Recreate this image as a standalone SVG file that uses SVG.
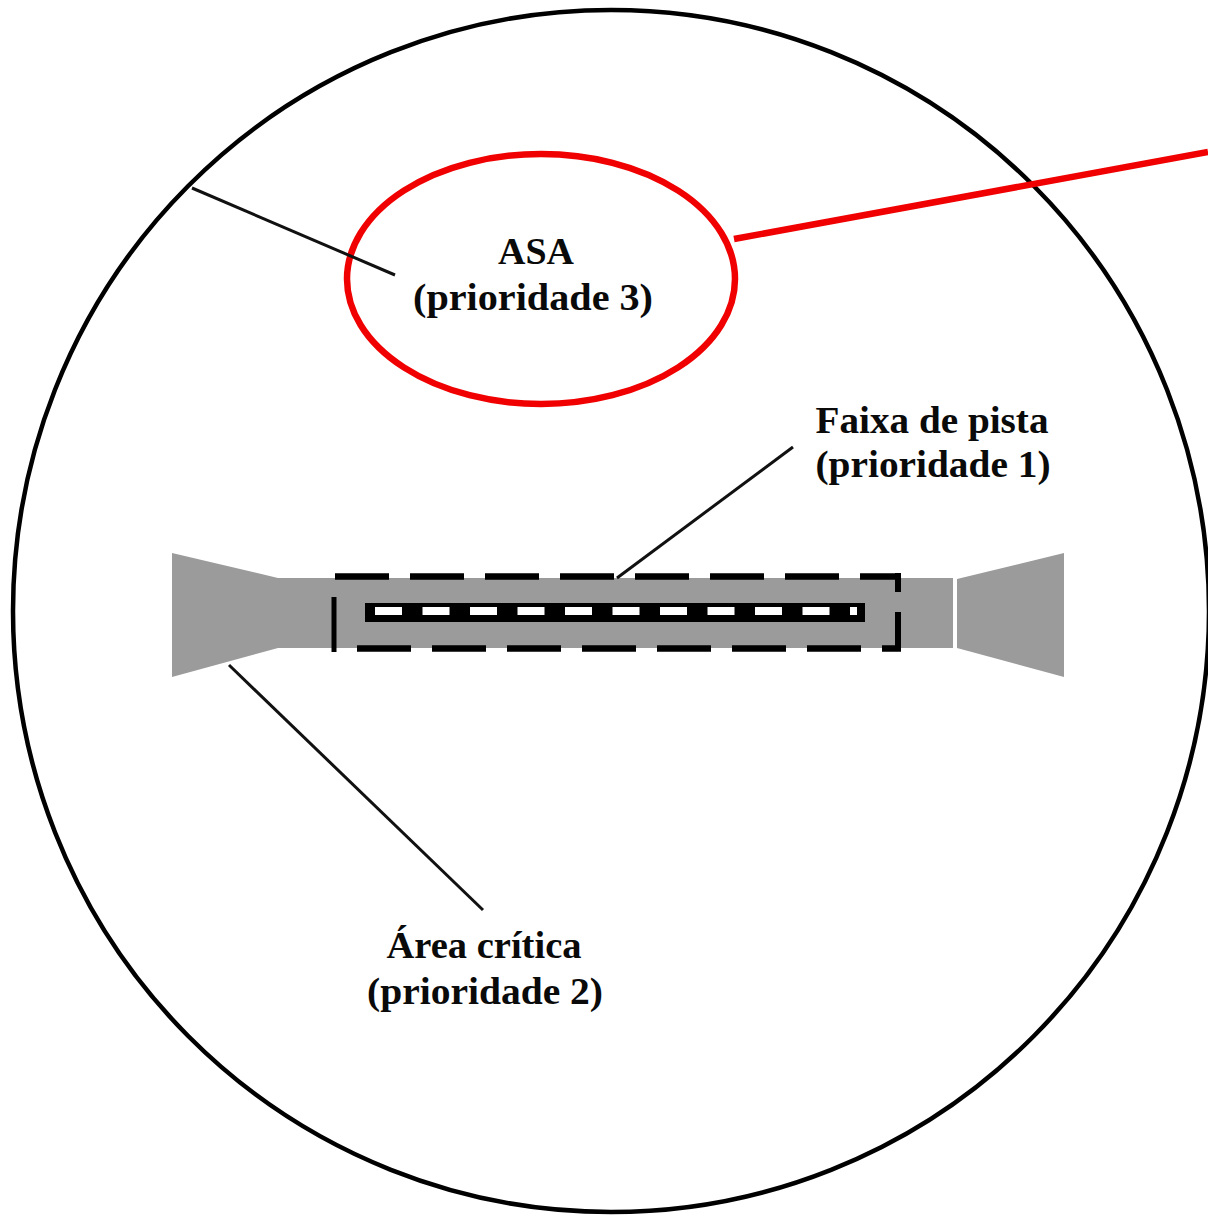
<svg xmlns="http://www.w3.org/2000/svg" width="1208" height="1215" viewBox="0 0 1208 1215">
<style>
.lbl{font-family:"Liberation Serif","Times New Roman",serif;font-weight:bold;font-size:37px;fill:#0a0a0a;text-anchor:middle}
.lead{stroke:#111;stroke-width:3;fill:none}
.gray{fill:#9b9b9b}
.dash{stroke:#000;stroke-width:6.5;fill:none;stroke-dasharray:54 21}
</style>
<rect width="1208" height="1215" fill="#fff"/>
<g id="boundary">
<ellipse cx="611" cy="611" rx="598" ry="601" fill="none" stroke="#000" stroke-width="4.5"/>
</g>
<g id="runway">
<polygon class="gray" points="172,553 278,578 278,648 172,677"/>
<rect class="gray" x="277" y="578" width="676" height="70"/>
<polygon class="gray" points="957,579 1064,553 1064,677 957,648"/>
<rect x="365" y="603" width="500" height="19" fill="#000"/>
<line x1="375" y1="611" x2="857" y2="611" stroke="#fff" stroke-width="8" stroke-dasharray="27 20.5"/>
</g>
<g id="faixa-de-pista">
<line class="dash" x1="335" y1="576.5" x2="901" y2="576.5"/>
<line class="dash" x1="357" y1="648.5" x2="901" y2="648.5"/>
<line x1="334" y1="597" x2="334" y2="652" stroke="#000" stroke-width="5"/>
<line x1="898" y1="573" x2="898" y2="592" stroke="#000" stroke-width="6"/>
<line x1="898" y1="612" x2="898" y2="651" stroke="#000" stroke-width="6"/>
</g>
<g id="asa">
<ellipse cx="541" cy="279" rx="194" ry="125" fill="none" stroke="#f00000" stroke-width="6.5"/>
<text class="lbl" x="536" y="264" textLength="76" lengthAdjust="spacingAndGlyphs">ASA</text>
<text class="lbl" x="533" y="310" textLength="240" lengthAdjust="spacingAndGlyphs">(prioridade 3)</text>
</g>
<g id="faixa-label">
<text class="lbl" x="932" y="433" textLength="233" lengthAdjust="spacingAndGlyphs">Faixa de pista</text>
<text class="lbl" x="933" y="477" textLength="235" lengthAdjust="spacingAndGlyphs">(prioridade 1)</text>
</g>
<g id="area-critica">
<text class="lbl" x="484" y="958" textLength="195" lengthAdjust="spacingAndGlyphs">Área crítica</text>
<text class="lbl" x="485" y="1004" textLength="236" lengthAdjust="spacingAndGlyphs">(prioridade 2)</text>
</g>
<g id="connectors">
<line class="lead" x1="192" y1="188" x2="395" y2="275"/>
<line class="lead" x1="793" y1="447" x2="617" y2="578"/>
<line class="lead" x1="229" y1="665" x2="483" y2="910"/>
<line x1="734" y1="239" x2="1208" y2="152" stroke="#f00000" stroke-width="6.5"/>
</g>
</svg>
